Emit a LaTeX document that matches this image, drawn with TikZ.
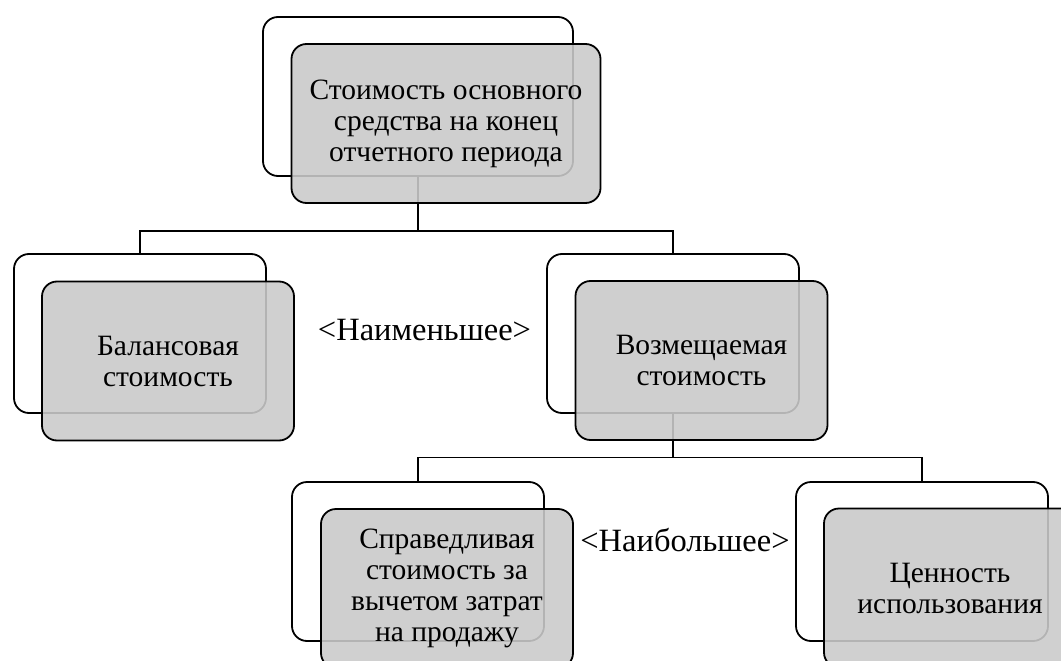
\documentclass[tikz,border=0pt]{standalone}
\usepackage{fontspec}
\setmainfont{Liberation Serif}
\definecolor{boxgrey}{RGB}{202,202,202}
\tikzset{
  backbox/.style={draw=black, line width=1.8pt, rounded corners=15pt, fill=white,
    minimum width=252pt, minimum height=159pt, inner sep=0pt},
  frontbox/.style={draw=black, line width=1.8pt, rounded corners=15pt, fill=boxgrey,
    fill opacity=0.89, text opacity=1, minimum width=252pt, minimum height=159pt,
    inner sep=0pt, align=center, font=\fontsize{29.5}{31}\selectfont},
  link/.style={draw=black, line width=1.8pt},
  lbl/.style={font=\fontsize{32.5}{35}\selectfont, inner sep=0pt, anchor=base}
}
\begin{document}
\begin{tikzpicture}[x=1pt, y=-1pt]
\useasboundingbox (0,0) rectangle (1061,661);
\clip (0,0) rectangle (1061,661);
% back boxes
\node[backbox, minimum width=310pt] (tb) at (418,96.5) {};
\node[backbox] (lb) at (140,333.5) {};
\node[backbox] (rb) at (673,333.5) {};
\node[backbox] (blb) at (418,561.5) {};
\node[backbox] (brb) at (922,561.5) {};
% connectors
\coordinate (j1) at (418,231);
\coordinate (j2) at (673,457.5);
\draw[link] (tb.south) -- (j1);
\draw[link] (j1) -| (lb.north);
\draw[link] (j1) -| (rb.north);
\draw[link] (rb.south) -- (j2);
\draw[link] (j2) -| (blb.north);
\draw[link] (j2) -| (brb.north);
% front boxes
\node[frontbox, minimum width=309pt] (tf) at (446,123.5) {\raisebox{-3pt}{\parbox{300pt}{\centering Стоимость основного\\средства на конец\\отчетного периода}}};
\node[frontbox] (lf) at (168,361) {Балансовая\\стоимость};
\node[frontbox] (rf) at (701.5,360.5) {Возмещаемая\\стоимость};
\node[frontbox] (blf) at (447,588.5) {Справедливая\\стоимость за\\вычетом затрат\\на продажу};
\node[frontbox] (brf) at (950,588) {Ценность\\использования};
% labels
\node[lbl] (min) at (424.5,340) {<Наименьшее>};
\node[lbl] (max) at (685,551) {<Наибольшее>};
\end{tikzpicture}
\end{document}
